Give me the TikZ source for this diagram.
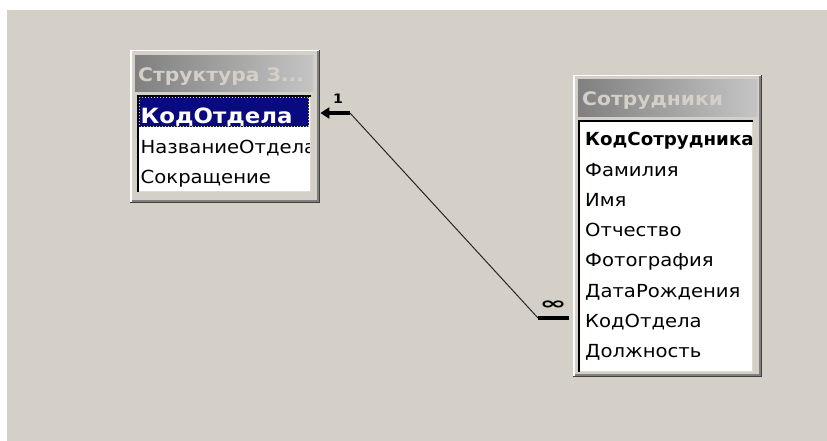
\documentclass[tikz,border=0pt]{standalone}
\usepackage{fontspec}
\setmainfont{DejaVu Sans}[FakeStretch=1.09]
\usetikzlibrary{arrows.meta}
\definecolor{face}{HTML}{D4D0C8}
\definecolor{capdark}{HTML}{808080}
\definecolor{caplight}{HTML}{C4C4C4}
\definecolor{captext}{HTML}{D4D0C8}
\definecolor{selblue}{HTML}{0A0A80}
\definecolor{shadowdark}{HTML}{404040}
\definecolor{shadowmid}{HTML}{808080}
\newcommand\winframe[4]{%
  \draw[white, line width=1.5pt] (#1+0.75,#4) -- (#1+0.75,#2+0.75) -- (#3,#2+0.75);
  \draw[shadowdark, line width=1.5pt] (#1,#4-0.75) -- (#3-0.75,#4-0.75) -- (#3-0.75,#2);
  \draw[shadowmid, line width=1.5pt] (#1+1.5,#4-2.25) -- (#3-2.25,#4-2.25) -- (#3-2.25,#2+1.5);
}
\newcommand\sunkenlist[4]{%
  \fill[white] (#1,#2) rectangle (#3,#4);
  \draw[black, line width=2pt] (#1+1,#4) -- (#1+1,#2+1) -- (#3,#2+1);
  \draw[face!80!white, line width=1pt] (#1+2,#4-0.5) -- (#3-0.5,#4-0.5) -- (#3-0.5,#2+2);
}
\begin{document}
\begin{tikzpicture}[x=1pt,y=-1pt,
  fld/.style={anchor=base west, inner sep=0pt, font=\fontsize{18pt}{20pt}\selectfont, text=black},
  keyfld/.style={fld, font=\fontsize{18pt}{20pt}\selectfont\bfseries},
  selfld/.style={fld, text=white, font=\fontsize{21pt}{22pt}\selectfont\bfseries},
  ttl/.style={anchor=base west, inner sep=0pt, font=\fontsize{18.6pt}{20pt}\selectfont\bfseries, text=captext},
  win/.style={fill=face, draw=none, inner sep=0pt, anchor=north west},
  relline/.style={line width=1pt, draw=black!85},
  relbar/.style={line width=4.5pt, draw=black},
  card/.style={inner sep=0pt, font=\fontsize{13pt}{14pt}\selectfont\bfseries},
  cardinf/.style={inner sep=0pt, font=\fontsize{17pt}{17pt}\selectfont\bfseries}
]
\useasboundingbox (0,0) rectangle (827,441);
\fill[white] (0,0) rectangle (827,441);
\fill[face] (7,10) rectangle (827,441);

% ---- left table
\node[win, minimum width=190pt, minimum height=153pt] (lt) at (130,50) {};
\winframe{130}{50}{320}{203}
\shade[left color=capdark, right color=caplight] (135,56) rectangle (313,92);
\begin{scope}
  \clip (135,56) rectangle (313,92);
  \node[ttl] (ltt) at (138,81.5) {Структура З...};
\end{scope}
\sunkenlist{137}{95}{311}{192}
\fill[selblue] (139,97) rectangle (309,127);
\draw[yellow!90!black, dotted, line width=1pt] (139.5,97.5) rectangle (308.5,126.5);
\begin{scope}
  \clip (139,97) rectangle (309,190);
  \node[selfld] (lf1) at (140.5,123.5) {КодОтдела};
  \node[fld] (lf2) at (140.5,153.7) {НазваниеОтдела};
  \node[fld] (lf3) at (140.5,183.9) {Сокращение};
\end{scope}

% ---- right table
\node[win, minimum width=189pt, minimum height=302pt] (rt) at (573,75) {};
\winframe{573}{75}{762}{377}
\shade[left color=capdark, right color=caplight] (578,80) rectangle (757,117);
\begin{scope}
  \clip (578,80) rectangle (757,117);
  \node[ttl] (rtt) at (582,105.5) {Сотрудники};
\end{scope}
\sunkenlist{578}{120}{753}{372}
\begin{scope}
  \clip (580,122) rectangle (752,370);
  \node[keyfld] (rf1) at (585,146) {\scalebox{0.93}[1]{КодСотрудника}};
  \node[fld] (rf2) at (585,176.2) {Фамилия};
  \node[fld] (rf3) at (585,206.4) {Имя};
  \node[fld] (rf4) at (585,236.6) {Отчество};
  \node[fld] (rf5) at (585,266.8) {Фотография};
  \node[fld] (rf6) at (585,297) {ДатаРождения};
  \node[fld] (rf7) at (585,327.2) {КодОтдела};
  \node[fld] (rf8) at (585,357.4) {Должность};
\end{scope}

% ---- relationship
\coordinate (lend) at (lt.east |- 0,113);
\coordinate (lbend) at (350,113);
\coordinate (rbend) at (538,318);
\coordinate (rend) at (569,318);
\draw[relbar, -{Triangle[length=9pt,width=11pt]}] (lbend) -- (lend);
\draw[relline] (lbend) -- (rbend);
\draw[relbar] (rbend) -- (rend);
\node[card] (c1) at (338,99) {1};
\node[cardinf] (cinf) at (553,305) {\scalebox{1.75}[1]{∞}};
\end{tikzpicture}
\end{document}
